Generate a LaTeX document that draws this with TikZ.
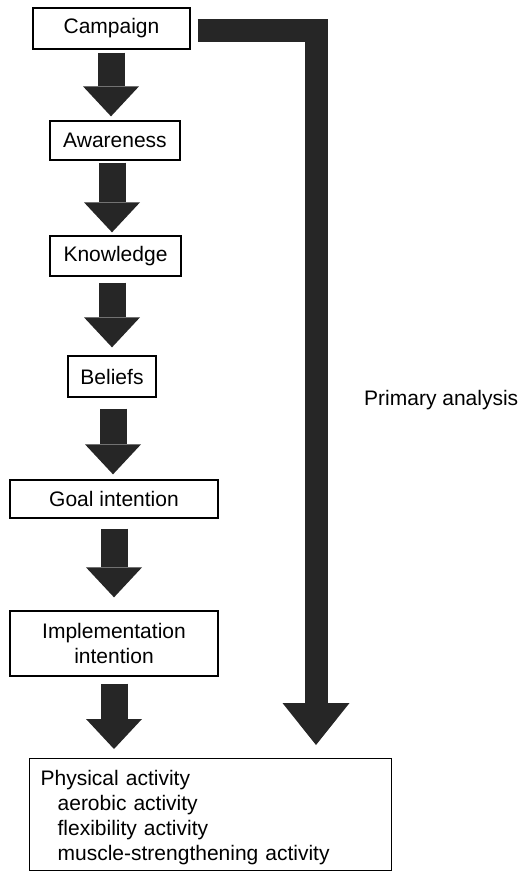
\documentclass[tikz,border=0pt]{standalone}
\usepackage{fontspec}
\setmainfont{Liberation Sans}
\usepackage{xcolor}
\usetikzlibrary{arrows.meta,calc}
\definecolor{arrowgray}{HTML}{262626}

\begin{document}
\begin{tikzpicture}[x=1pt, y=-1pt,
    stage/.style={draw, line width=1.3pt, inner sep=0pt,
                  font=\fontsize{21}{25}\selectfont},
    flow/.style={draw=arrowgray, line width=27pt,
                 -{Triangle[width=56pt, length=30pt, line width=0pt]}},
    primary/.style={draw=arrowgray, line width=23pt, line join=miter,
                    -{Triangle[width=67pt, length=42pt, line width=0pt]}},
    lbl/.style={inner sep=0pt, font=\fontsize{21}{25}\selectfont},
]
\useasboundingbox (0,0) rectangle (522,872);

% Stages of the chain
\node[stage, minimum width=157pt, minimum height=41pt] (camp)  at (111.5, 28.5) {Campaign};
\node[stage, minimum width=130pt, minimum height=39pt] (aware) at (115, 140.5) {Awareness};
\node[stage, minimum width=131pt, minimum height=40pt] (know)  at (115.5, 256) {Knowledge};
\node[stage, minimum width=88pt,  minimum height=41pt] (belief) at (112, 376.5) {Beliefs};
\node[stage, minimum width=208pt, minimum height=38pt] (goal)  at (114, 499) {Goal intention};
\node[stage, minimum width=208pt, minimum height=65pt, align=center] (impl) at (114, 643.5)
    {Implementation\\intention};
\node[stage, anchor=north west, minimum height=112pt, text width=340pt, inner xsep=11pt,
      align=left] (phys) at (29, 758)
    {\rule{0pt}{21pt}Physical activity\\
     \hspace*{17pt}aerobic activity\\
     \hspace*{17pt}flexibility activity\\
     \hspace*{17pt}muscle-strengthening activity};

% === Chain arrows ===
\foreach \a/\b/\s/\e/\x in {camp/aware/3/4/111, aware/know/2/3/112, know/belief/6/8/112,
                            belief/goal/11/5/113, goal/impl/10/13/114, impl/phys/7/9/114} {
    \draw[flow, shorten <=\s pt, shorten >=\e pt] (\x, 0 |- \a.south) -- (\x, 0 |- \b.north);
}

% === Primary analysis ===
\draw[primary, shorten >=13pt] ([shift={(7,2.5)}]camp.east) -| ([xshift=287pt]phys.north west);
\node[lbl, anchor=west] (prim) at (364, 400) {Primary analysis};

\end{tikzpicture}
\end{document}
